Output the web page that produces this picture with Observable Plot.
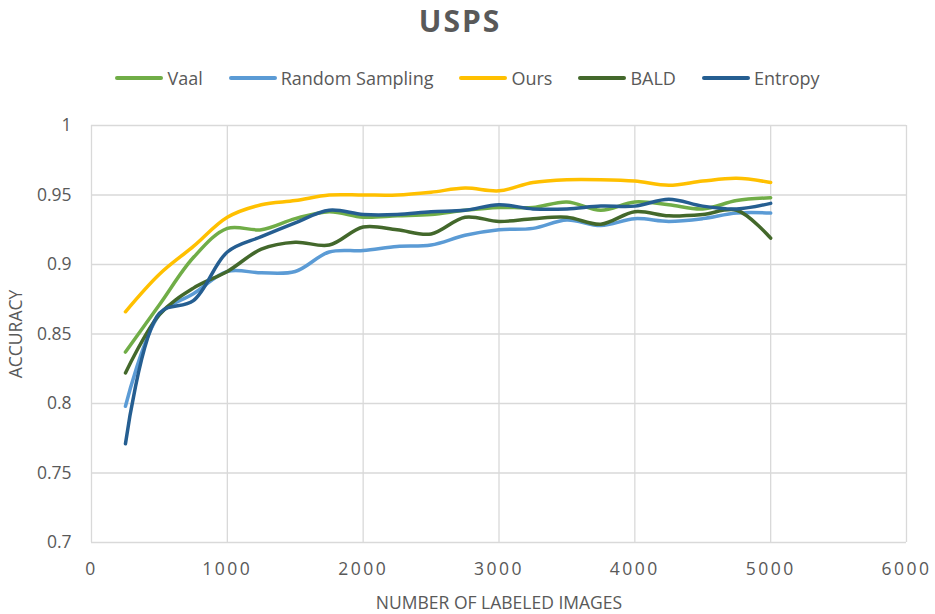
<!DOCTYPE html>
<html>
<head>
<meta charset="utf-8">
<script src="https://cdn.jsdelivr.net/npm/d3@7"></script>
<script src="https://cdn.jsdelivr.net/npm/@observablehq/plot@0.6"></script>
<style>
  html, body { margin: 0; padding: 0; background: #ffffff; }
  #wrap { width: 935px; font-family: "Open Sans", sans-serif; color: #595959; }
  #title { height: 42px; line-height: 42px; text-align: center; font-size: 30px; font-weight: 700; letter-spacing: 2px; color: #595959; padding-right: 15px; box-sizing: border-box; }
  #legend { height: 58px; box-sizing: border-box; padding-top: 24px; display: flex; justify-content: center; align-items: flex-start; }
  .item { display: flex; align-items: center; height: 24px; margin-right: 26px; font-size: 18px; color: #595959; }
  .item:last-child { margin-right: 0; }
  .sw { width: 48px; height: 4px; border-radius: 2px; margin-right: 4px; }
</style>
</head>
<body>
<div id="wrap">
  <div id="title">USPS</div>
  <div id="legend"></div>
  <div id="chart"></div>
</div>
<script>
const seriesNames = ["Vaal", "Random Sampling", "Ours", "BALD", "Entropy"];
const seriesColors = ["#70AD47", "#5B9BD5", "#FFC000", "#43682B", "#255E91"];

const labeled = [250, 500, 750, 1000, 1250, 1500, 1750, 2000, 2250, 2500, 2750, 3000, 3250, 3500, 3750, 4000, 4250, 4500, 4750, 5000];

const vaal    = [0.837, 0.871, 0.905, 0.926, 0.925, 0.933, 0.938, 0.934, 0.935, 0.936, 0.939, 0.941, 0.941, 0.945, 0.939, 0.945, 0.943, 0.940, 0.946, 0.948];
const randomS = [0.798, 0.864, 0.879, 0.895, 0.894, 0.895, 0.909, 0.910, 0.913, 0.914, 0.921, 0.925, 0.926, 0.932, 0.928, 0.933, 0.931, 0.933, 0.937, 0.937];
const ours    = [0.866, 0.893, 0.913, 0.934, 0.943, 0.946, 0.950, 0.950, 0.950, 0.952, 0.955, 0.953, 0.959, 0.961, 0.961, 0.960, 0.957, 0.960, 0.962, 0.959];
const bald    = [0.822, 0.864, 0.883, 0.895, 0.911, 0.916, 0.914, 0.927, 0.925, 0.922, 0.934, 0.931, 0.933, 0.934, 0.929, 0.938, 0.935, 0.936, 0.939, 0.919];
const entropy = [0.771, 0.865, 0.874, 0.909, 0.920, 0.930, 0.939, 0.936, 0.936, 0.938, 0.939, 0.943, 0.940, 0.940, 0.942, 0.942, 0.947, 0.942, 0.940, 0.944];

const xTicks = [0, 1000, 2000, 3000, 4000, 5000, 6000];
const yTicks = [0.7, 0.75, 0.8, 0.85, 0.9, 0.95, 1];
const yTickLabels = ["0.7", "0.75", "0.8", "0.85", "0.9", "0.95", "1"];

const allSeries = [vaal, randomS, ours, bald, entropy];
const rows = [];
allSeries.forEach((vals, i) => {
  vals.forEach((v, j) => rows.push({series: seriesNames[i], x: labeled[j], y: v}));
});

// legend
const legend = document.getElementById("legend");
seriesNames.forEach((n, i) => {
  const it = document.createElement("div");
  it.className = "item";
  const sw = document.createElement("div");
  sw.className = "sw";
  sw.style.background = seriesColors[i];
  const tx = document.createElement("span");
  tx.textContent = n;
  it.appendChild(sw);
  it.appendChild(tx);
  legend.appendChild(it);
});

const gridStyle = {stroke: "#d9d9d9", strokeOpacity: 1, strokeWidth: 1.3};

const chart = Plot.plot({
  width: 935,
  height: 514,
  marginLeft: 91,
  marginRight: 29,
  marginTop: 25,
  marginBottom: 72,
  style: {fontFamily: "Open Sans, sans-serif", fontSize: "17.5px", color: "#595959", background: "#ffffff"},
  x: {domain: [0, 6000]},
  y: {domain: [0.7, 1]},
  color: {domain: seriesNames, range: seriesColors},
  marks: [
    Plot.gridX(xTicks, gridStyle),
    Plot.gridY(yTicks, gridStyle),
    Plot.axisY(yTicks, {
      tickSize: 0, tickPadding: 20,
      tickFormat: (d) => yTickLabels[yTicks.indexOf(d)],
      label: "ACCURACY", labelAnchor: "center", labelArrow: "none", labelOffset: 82
    }),
    Plot.axisX(xTicks, {
      tickSize: 0, tickPadding: 20,
      tickFormat: (d) => String(d),
      label: "NUMBER OF LABELED IMAGES", labelAnchor: "center", labelArrow: "none", labelOffset: 66
    }),
    Plot.line(rows, {
      x: "x", y: "y", z: "series", stroke: "series",
      strokeWidth: 3.5, strokeLinecap: "round", strokeLinejoin: "round",
      curve: "catmull-rom"
    })
  ]
});
document.getElementById("chart").appendChild(chart);
d3.select(chart).selectAll('g[aria-label="x-axis tick label"] text').style("letter-spacing", "2.5px");
</script>
</body>
</html>
